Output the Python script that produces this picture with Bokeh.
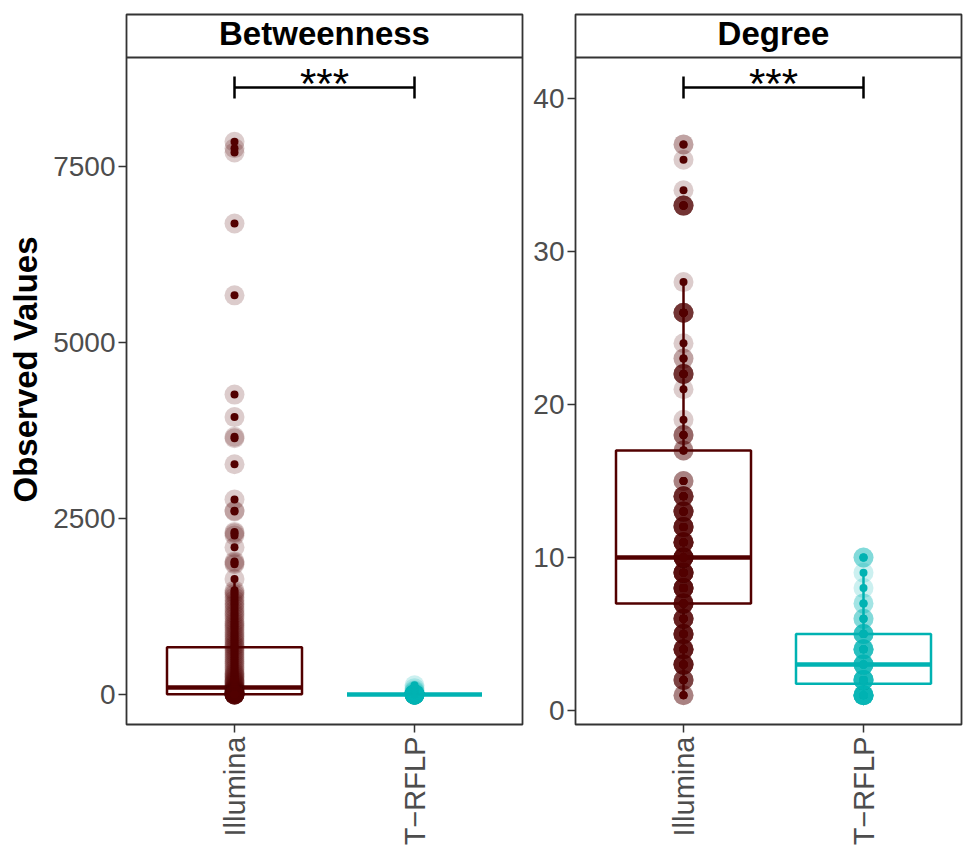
import math
import numpy as np
from bokeh.plotting import figure
from bokeh.layouts import row
from bokeh.models import Range1d, FixedTicker, Span, Label
from bokeh.embed import file_html
from bokeh.resources import INLINE

# ---------------- data ----------------
categories = ["Illumina", "T−RFLP"]
colors = ["#520000", "#00b2b2"]

panel_titles = ["Betweenness", "Degree"]
y_label = "Observed Values"

bet_ticks = [0, 2500, 5000, 7500]
deg_ticks = [0, 10, 20, 30, 40]

# Betweenness, observed values
bet_illumina = [7850, 7760, 7700, 6690, 5670, 4260, 3940, 3660, 3640, 3270,
                2770, 2610, 2600, 2310, 2290, 2260, 2090, 1890, 1870, 1850,
                1640, 1480, 1450, 1420, 1380, 1340, 1300, 1270, 1230, 1190,
                1150, 1120, 1080, 1040, 1010, 980, 950, 920, 880, 850,
                820, 790, 760, 730, 700, 680, 650, 620, 590, 560,
                530, 500, 470, 440, 410, 380, 350, 320, 300, 280,
                260, 240, 220, 200, 185, 170, 155, 140, 125, 110,
                100, 90, 80, 70, 62, 55, 48, 42, 36, 30,
                25, 20, 16, 12, 9, 7, 5, 4, 3, 2,
                1, 1, 0, 0, 0, 0, 0, 0, 0, 0]
bet_trflp = [0, 0, 0, 0, 0, 0, 0, 0, 0, 0, 0, 0, 0, 0, 0, 0, 0, 0, 0, 0,
             0, 0, 0, 0, 0, 15, 30, 45, 60, 90, 130]

# Degree, observed values with their counts
deg_illumina_values = [1, 2, 3, 4, 5, 6, 7, 8, 9, 10, 11, 12, 13, 14, 15,
                       17, 18, 19, 21, 22, 23, 24, 26, 28, 33, 34, 36, 37]
deg_illumina_counts = [3, 6, 10, 10, 10, 9, 11, 12, 12, 14, 11, 10, 9, 8, 3,
                       3, 4, 1, 1, 7, 2, 1, 7, 1, 7, 1, 1, 2]
deg_trflp_values = [1, 2, 3, 4, 5, 6, 7, 8, 9, 10]
deg_trflp_counts = [14, 10, 9, 8, 7, 3, 2, 1, 1, 3]

# box statistics: lower whisker, Q1, median, Q3, upper whisker
bet_box_illumina = [0, 5, 100, 670, 1640]
bet_box_trflp = [0, 0, 0, 0, 0]
deg_box_illumina = [1, 7, 10, 17, 28]
deg_box_trflp = [1, 1.75, 3, 5, 9]

significance = "***"

# ---------------- styling ----------------
FONT = "Liberation Sans"
FRAME_H = 710
BOX_HALF = 0.375
INK = "#333333"


def make_panel(title, series, boxes, ticks, y_lo, y_hi, strip_bottom,
               sig_y, sig_tip, x_end, frame_w, mbl, mbr, ylab=None):
    p = figure(frame_width=frame_w, frame_height=FRAME_H,
               x_range=Range1d(0.4, x_end), y_range=Range1d(y_lo, y_hi),
               output_backend="svg", toolbar_location=None,
               min_border_left=mbl, min_border_right=mbr,
               min_border_top=14, min_border_bottom=0)
    p.xgrid.visible = False
    p.ygrid.visible = False
    p.background_fill_color = "white"
    p.border_fill_color = "white"
    p.outline_line_color = INK
    p.outline_line_width = 1.8

    # axes
    p.xaxis.ticker = FixedTicker(ticks=[1, 2])
    p.xaxis.major_label_overrides = {1: categories[0], 2: categories[1]}
    p.xaxis.major_label_orientation = math.pi / 2
    p.yaxis.ticker = FixedTicker(ticks=ticks)
    for ax in (p.xaxis[0], p.yaxis[0]):
        ax.axis_line_color = None
        ax.minor_tick_line_color = None
        ax.major_tick_out = 8
        ax.major_tick_in = 0
        ax.major_tick_line_color = INK
        ax.major_tick_line_width = 1.5
        ax.major_label_text_font = FONT
        ax.major_label_text_color = "#4d4d4d"
    p.yaxis.major_label_text_font_size = "28px"
    p.yaxis.major_label_standoff = 3
    p.xaxis.major_label_text_font_size = "29px"
    p.xaxis.major_label_standoff = 4
    if ylab:
        p.yaxis.axis_label = ylab
        p.yaxis.axis_label_text_font = FONT
        p.yaxis.axis_label_text_font_size = "33px"
        p.yaxis.axis_label_text_font_style = "bold"
        p.yaxis.axis_label_text_color = "black"
        p.yaxis.axis_label_standoff = 6

    # boxplots
    for i, (vals, box, col) in enumerate(zip(series, boxes, colors)):
        pos = i + 1
        lo, q1, med, q3, hi = box
        p.segment(x0=[pos, pos], y0=[q3, lo], x1=[pos, pos], y1=[hi, q1],
                  line_color=col, line_width=2.5)
        p.quad(left=[pos - BOX_HALF], right=[pos + BOX_HALF], bottom=[q1], top=[q3],
               fill_alpha=0, line_color=col, line_width=2.5)
        p.segment(x0=[pos - BOX_HALF], y0=[med], x1=[pos + BOX_HALF], y1=[med],
                  line_color=col, line_width=4.5)

    # points
    for i, (vals, col) in enumerate(zip(series, colors)):
        pos = i + 1
        xs = np.full(len(vals), pos, dtype=float)
        p.scatter(xs, vals, size=20, fill_color=col, fill_alpha=0.2, line_color=None)
    for i, (vals, col) in enumerate(zip(series, colors)):
        pos = i + 1
        xs = np.full(len(vals), pos, dtype=float)
        p.scatter(xs, vals, size=8, fill_color=col, fill_alpha=1.0, line_color=None)

    # strip
    p.add_layout(Span(location=strip_bottom, dimension="width",
                      line_color=INK, line_width=1.8))
    p.add_layout(Label(x=1.5, y=strip_bottom, y_offset=24, text=title,
                       text_align="center", text_baseline="alphabetic",
                       text_font=FONT, text_font_size="33px",
                       text_font_style="bold", text_color="black"))

    # significance bracket
    p.segment(x0=[1], y0=[sig_y], x1=[2], y1=[sig_y], line_color="black", line_width=2.5)
    p.segment(x0=[1, 2], y0=[sig_y - sig_tip, sig_y - sig_tip],
              x1=[1, 2], y1=[sig_y + sig_tip, sig_y + sig_tip],
              line_color="black", line_width=2.5)
    p.add_layout(Label(x=1.5, y=sig_y, y_offset=4, text=significance,
                       text_align="center", text_baseline="alphabetic",
                       text_font=FONT, text_font_size="42px", text_color="black"))
    return p


bet_series = [bet_illumina, bet_trflp]
deg_series = [np.repeat(deg_illumina_values, deg_illumina_counts),
              np.repeat(deg_trflp_values, deg_trflp_counts)]

# layout constants (frame geometry)
bet_scale = 2500 / 176.0   # data units per pixel
deg_scale = 10 / 153.0

p1 = make_panel(panel_titles[0], bet_series, [bet_box_illumina, bet_box_trflp], bet_ticks,
                y_lo=-30 * bet_scale, y_hi=680 * bet_scale, strip_bottom=637 * bet_scale,
                sig_y=607 * bet_scale, sig_tip=11 * bet_scale,
                x_end=2.6, frame_w=396, mbl=126, mbr=4, ylab=y_label)
p2 = make_panel(panel_titles[1], deg_series, [deg_box_illumina, deg_box_trflp], deg_ticks,
                y_lo=-14 * deg_scale, y_hi=696 * deg_scale, strip_bottom=653 * deg_scale,
                sig_y=623 * deg_scale, sig_tip=11 * deg_scale,
                x_end=0.4 + 386 / 180.0, frame_w=386, mbl=49, mbr=2)

layout = row(p1, p2)
open("out.html", "w").write(file_html(layout, INLINE))
